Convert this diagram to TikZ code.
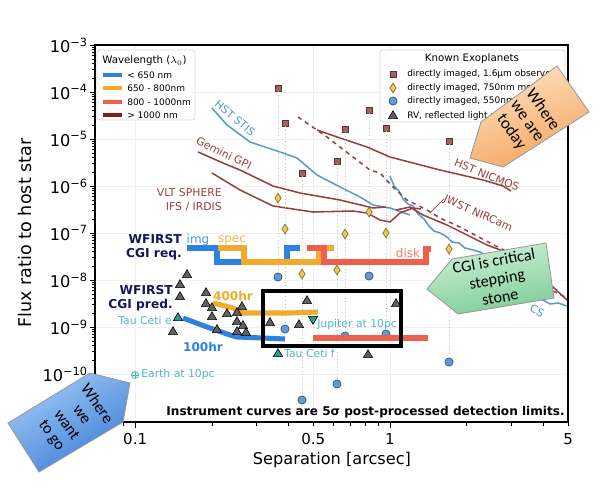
\documentclass[tikz,border=0pt]{standalone}
\usepackage{fontspec}
\setmainfont{DejaVu Sans}
\newfontfamily\pptfont{Carlito}
\usetikzlibrary{shapes.geometric}

\definecolor{cgiblue}{RGB}{45,130,225}
\definecolor{cgiorange}{RGB}{240,170,45}
\definecolor{cgisalmon}{RGB}{238,95,78}
\definecolor{legmaroon}{RGB}{130,30,30}
\definecolor{instred}{RGB}{150,65,65}
\definecolor{stisblue}{RGB}{85,155,205}
\definecolor{tealtxt}{RGB}{80,185,195}
\definecolor{tealmark}{RGB}{45,155,135}
\definecolor{cginavy}{RGB}{20,20,90}
\definecolor{sqfill}{RGB}{165,95,95}
\definecolor{dmfill}{RGB}{240,200,85}
\definecolor{cifill}{RGB}{95,155,220}
\definecolor{orangelt}{RGB}{253,225,195}
\definecolor{orangedk}{RGB}{245,165,95}
\definecolor{bluelt}{RGB}{160,200,245}
\definecolor{bluedk}{RGB}{60,125,215}
\definecolor{greenlt}{RGB}{205,240,215}
\definecolor{greendk}{RGB}{125,205,150}

\begin{document}
\begin{tikzpicture}[x=0.025cm,y=-0.025cm,
  inst/.style={instred,line width=1.1pt},
  stis/.style={stisblue,line width=1.1pt},
  cgiline/.style={line width=3.6pt},
  gridline/.style={gray!12,line width=0.4pt},
  planetline/.style={gray!50,dotted,line width=0.6pt},
  sqmark/.style={rectangle,draw=sqfill!55!black,fill=sqfill,minimum size=4.3pt,inner sep=0pt,line width=0.4pt},
  dmmark/.style={diamond,draw=dmfill!55!black,fill=dmfill,minimum width=4.6pt,minimum height=7pt,inner sep=0pt,line width=0.5pt},
  cimark/.style={circle,draw=cifill!55!black,fill=cifill,minimum size=5.8pt,inner sep=0pt,line width=0.5pt},
  rvmark/.style={regular polygon,regular polygon sides=3,draw=black,fill=black!62,minimum size=7.6pt,inner sep=0pt,line width=0.4pt},
  taumark/.style={rvmark,fill=tealmark},
  lgdbox/.style={draw=gray!30,fill=white,rounded corners=2pt,line width=0.6pt},
  lgdtxt/.style={font=\fontsize{6.4}{7}\selectfont,anchor=west,inner sep=0pt},
  lgdtitle/.style={font=\fontsize{7.3}{8}\selectfont,inner sep=0pt},
  curvelbl/.style={font=\fontsize{7.7}{10.6}\selectfont,inner sep=0pt},
  taulbl/.style={tealtxt,font=\fontsize{7.7}{8}\selectfont,inner sep=0pt},
  cgilbl/.style={cginavy,font=\bfseries\fontsize{8.7}{9.8}\selectfont,align=right,anchor=east,inner sep=0pt},
  modelbl/.style={font=\fontsize{8.5}{9}\selectfont,inner sep=0pt},
  hrlbl/.style={font=\bfseries\fontsize{8.6}{9}\selectfont,inner sep=0pt},
  callout/.style={draw=black!40,line width=0.6pt},
  callouttxt/.style={font=\pptfont\fontsize{11.5}{13}\selectfont,align=center,inner sep=0pt},
  yticklbl/.style={font=\fontsize{11.5}{12}\selectfont,anchor=east,inner sep=0pt},
  xticklbl/.style={font=\fontsize{10.7}{12}\selectfont,inner sep=0pt}]
\useasboundingbox (0,0) rectangle (600,500);

% grid
\foreach \e in {4,...,10}
  \draw[gridline] (95,{45+47*(\e-3)}) -- (568,{45+47*(\e-3)});
\foreach \v in {0.1,0.5,1}
  \draw[gridline] ({390+255*log10(\v)},45) -- ({390+255*log10(\v)},422);

% instrument curves
\draw[stis] (212,108) -- (227,125) -- (250,142) -- (280,152) -- (297,158) -- (317,175) -- (340,187) -- (360,197) -- (373,205) -- (390,208) -- (410,215);
\draw[stis] (390,176) -- (394,186) -- (399,191) -- (403,199) -- (408,204) -- (413,206) -- (418,214) -- (424,219) -- (429,226) -- (434,231) -- (440,233) -- (447,237) -- (452,242) -- (459,243) -- (465,248) -- (473,250) -- (480,252) -- (487,256) -- (495,258) -- (510,272) -- (527,299) -- (535,299) -- (543,300) -- (550,304) -- (558,303) -- (567,306);
\draw[inst] (198,152) -- (223,163) -- (240,170) -- (273,186) -- (300,193) -- (340,200) -- (373,208) -- (386,207);
\draw[inst] (212,173) -- (240,190) -- (273,206) -- (313,212) -- (353,211) -- (367,213) -- (380,220) -- (390,222) -- (400,213) -- (413,208) -- (421,209);
\draw[inst] (317,130) -- (340,138) -- (367,147) -- (390,157) -- (413,163) -- (440,170) -- (483,180) -- (503,186) -- (511,191);
\draw[inst,dashed] (298,117) -- (327,137) -- (353,157) -- (370,170) -- (380,173) -- (393,187) -- (407,200) -- (427,210) -- (440,218) -- (460,227) -- (490,243) -- (520,258) -- (547,288) -- (567,298);
\draw[inst] (396,210) -- (410,207) -- (423,215) -- (447,225) -- (463,233) -- (487,245) -- (503,251) -- (520,262) -- (553,287) -- (567,300);

\node[curvelbl,stisblue,rotate=-40] (stislbl) at (235,118) {HST STIS};
\node[curvelbl,instred,rotate=-26] (gpilbl) at (224,153) {Gemini GPI};
\node[curvelbl,instred,align=right,anchor=east] (spherelbl) at (222,200) {VLT SPHERE\\IFS / IRDIS};
\node[curvelbl,instred,rotate=-22] (nicmoslbl) at (487,175) {HST NICMOS};
\node[curvelbl,instred,rotate=-24] (nircamlbl) at (478,214) {JWST NIRCam};
\coordinate (nircamtip) at (430,213);
\draw[instred,line width=0.5pt] (nircamlbl.west) -- (nircamtip);
\node[curvelbl,stisblue,rotate=-30] (cslbl) at (537,311) {CS};

% known planets
\foreach \x/\ya/\yb/\yc [count=\i] in {278/88/198/277, 285/123/229/329, 302/173/274/400, 337/161/270/384, 345/129/234/336, 369/110/212/276, 386/128/233/334, 449/141/249/362}{
  \node[sqmark] (sq\i) at (\x,\ya) {};
  \node[dmmark] (dm\i) at (\x,\yb) {};
  \node[cimark] (ci\i) at (\x,\yc) {};
  \draw[planetline] (sq\i) -- (dm\i) -- (ci\i);
}

% CGI requirement
\draw[cgiline,cgiblue] (187,248) -- (217,248) -- (217,262) -- (287,262) -- (287,248) -- (300,248);
\draw[cgiline,cgiorange] (218,248) -- (244,248) -- (244,262) -- (319,262) -- (319,248) -- (334,248);
\draw[cgiline,cgisalmon] (307,248) -- (324,248) -- (324,262) -- (426,262) -- (426,249) -- (431,249);
% CGI prediction
\draw[cgiline,cgiorange] (213,303) -- (233,308) -- (243,313) -- (290,313) -- (318,312);
\draw[cgiline,cgiblue] (183,318) -- (207,327) -- (230,335) -- (237,337) -- (263,338) -- (285,339);
\draw[cgiline,cgisalmon] (313,338) -- (428,338);

% RV planets
\foreach \x/\y [count=\i] in {187/275,180/285,180/297,206/293,206/304,212/308,212/317,227/314,242/307,237/313,237/322,243/326,237/332,246/333,217/330,173/332,270/323,299/325,307/301,396/304,368/355}
  \node[rvmark] (rv\i) at (\x,\y) {};

\node[taumark] (taue) at (178,318) {};
\node[taulbl,anchor=east] (tauelbl) at (172,320) {Tau Ceti e};
\node[taumark] (tauf) at (278,354) {};
\node[taulbl,anchor=west] (tauflbl) at (284,353) {Tau Ceti f};
\node[taumark,shape border rotate=180] (jup) at (313,319) {};
\node[taulbl,anchor=west] (juplbl) at (317,325) {Jupiter at 10pc};
\node[circle,draw=tealtxt,line width=0.6pt,minimum size=5pt,inner sep=0pt] (earth) at (135,375) {};
\draw[tealtxt,line width=0.6pt] (earth.north) -- (earth.south) (earth.west) -- (earth.east);
\node[taulbl,anchor=west] (earthlbl) at (141,375) {Earth at 10pc};

% curve labels
\node[cgilbl] (reqlbl) at (182,247) {WFIRST\\CGI req.};
\node[cgilbl] (predlbl) at (173,298) {WFIRST\\CGI pred.};
\node[modelbl,cgiblue!85] (imglbl) at (198,240) {img};
\node[modelbl,cgiorange!85] (speclbl) at (232,240) {spec};
\node[modelbl,cgisalmon!85] (disklbl) at (408,253) {disk};
\node[hrlbl,cgiorange] (hr400) at (233,296) {400hr};
\node[hrlbl,cgiblue] (hr100) at (203,347) {100hr};

\draw[line width=2.2pt] (263,291) rectangle (401,346);
\node[font=\bfseries\fontsize{8.6}{9}\selectfont,anchor=east,inner sep=0pt] (note) at (565,412) {Instrument curves are 5σ post-processed detection limits.};

% legends
\draw[lgdbox] (97,50) rectangle (195,120);
\node[lgdtitle,anchor=west] (wltitle) at (102,61) {Wavelength ($\lambda_0$)};
\foreach \c/\t/\y [count=\i] in {cgiblue/{< 650 nm}/75, cgiorange/{650 - 800nm}/88, cgisalmon/{800 - 1000nm}/102, legmaroon/{> 1000 nm}/115}{
  \draw[\c,line width=2.8pt] (103,\y) -- (122,\y);
  \node[lgdtxt] (wl\i) at (127,\y) {\t};
}
\draw[lgdbox] (380,50) rectangle (565,122);
\node[lgdtitle] (extitle) at (472,59) {Known Exoplanets};
\node[sqmark] (lgsq) at (393,74) {};
\node[lgdtxt] (lgsqtxt) at (407,74) {directly imaged, 1.6μm observed};
\node[dmmark] (lgdm) at (393,88) {};
\node[lgdtxt] (lgdmtxt) at (407,88) {directly imaged, 750nm model};
\node[cimark] (lgci) at (393,101) {};
\node[lgdtxt] (lgcitxt) at (407,101) {directly imaged, 550nm model};
\node[rvmark] (lgrv) at (393,116) {};
\node[lgdtxt] (lgrvtxt) at (407,116) {RV, reflected light model};

% axes
\draw[line width=1pt] (95,45) rectangle (568,422);
\foreach \e in {3,...,10}{
  \draw[line width=0.6pt] (95,{45+47*(\e-3)}) -- ++(-5,0);
  \node[yticklbl] (yl\e) at (88,{45+47*(\e-3)}) {10\textsuperscript{−\e}};
}
\foreach \e in {4,...,11}
  \foreach \k in {2,...,9}
    \draw[line width=0.4pt] (95,{45+47*(\e-3)-47*log10(\k)}) -- ++(-3,0);
\foreach \v in {0.08,0.09,0.2,0.3,0.4,0.5,0.6,0.7,0.8,0.9,2,3,4,5}
  \draw[line width=0.4pt] ({390+255*log10(\v)},422) -- ++(0,3.5);
\foreach \v in {0.1,1}
  \draw[line width=0.6pt] ({390+255*log10(\v)},422) -- ++(0,6);
\foreach \v [count=\i] in {0.1,0.5,1,5}
  \node[xticklbl] (xl\i) at ({390+255*log10(\v)},439) {\v};
\node[font=\fontsize{11.5}{12}\selectfont] (xlabel) at (332,460) {Separation [arcsec]};
\node[font=\fontsize{12.5}{13}\selectfont,rotate=90] (ylabel) at (25,233) {Flux ratio to host star};

% callouts
\shadedraw[callout,top color=orangelt,bottom color=orangedk,shading angle=20] (557,66) -- (589,112) -- (503,167) -- (470,158) -- (481,122) -- cycle;
\node[callouttxt,rotate=-55,font=\pptfont\fontsize{12}{13.6}\selectfont] (today) at (527,121) {Where\\we are\\today};
\shadedraw[callout,top color=greenlt,bottom color=greendk,shading angle=10] (427,289) -- (452,259) -- (546,243) -- (554,298) -- (458,314) -- cycle;
\node[callouttxt,rotate=10] (stepstone) at (497,279) {CGI is critical\\stepping\\stone};
\shadedraw[callout,top color=bluelt,bottom color=bluedk,shading angle=31] (8,423) -- (90,373) -- (130,383) -- (123,422) -- (39,472) -- cycle;
\node[callouttxt,rotate=-55] (wantgo) at (74,420) {Where\\we\\want\\to go};
\end{tikzpicture}
\end{document}
